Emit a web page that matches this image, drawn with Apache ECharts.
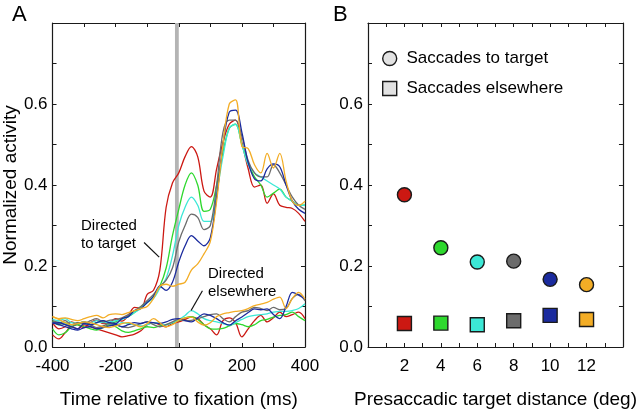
<!DOCTYPE html>
<html><head><meta charset="utf-8">
<script src="https://cdn.jsdelivr.net/npm/echarts@6/dist/echarts.min.js"></script>
<style>html,body{margin:0;padding:0;background:#fff}#c{width:640px;height:414px}</style>
</head><body><div id="c"></div>
<script>
// ---- Panel A data: time (ms) and normalized activity ----
const times = [-400,-380,-360,-340,-320,-300,-280,-260,-240,-220,-200,-180,-160,-140,-120,-100,-80,-60,-40,-20,0,20,40,60,80,100,120,140,160,180,200,220,240,260,280,300,320,340,360,380,400];

const redTarget    = [0.060,0.045,0.050,0.062,0.055,0.048,0.060,0.066,0.058,0.060,0.070,0.064,0.078,0.098,0.095,0.130,0.140,0.190,0.345,0.405,0.430,0.470,0.495,0.470,0.385,0.370,0.440,0.505,0.550,0.560,0.505,0.440,0.395,0.400,0.355,0.378,0.350,0.345,0.342,0.330,0.310];
const greenTarget  = [0.065,0.055,0.060,0.050,0.058,0.062,0.055,0.060,0.065,0.058,0.062,0.070,0.075,0.085,0.100,0.110,0.125,0.150,0.195,0.275,0.340,0.400,0.430,0.400,0.335,0.340,0.400,0.480,0.540,0.550,0.500,0.455,0.420,0.400,0.370,0.380,0.390,0.370,0.360,0.350,0.350];
const cyanTarget   = [0.068,0.065,0.070,0.060,0.058,0.062,0.060,0.065,0.060,0.062,0.065,0.068,0.075,0.085,0.095,0.110,0.120,0.145,0.170,0.225,0.300,0.345,0.370,0.350,0.310,0.310,0.380,0.470,0.540,0.550,0.500,0.450,0.430,0.420,0.410,0.400,0.390,0.370,0.360,0.350,0.350];
const grayTarget   = [0.062,0.058,0.065,0.055,0.060,0.058,0.065,0.070,0.062,0.066,0.068,0.072,0.080,0.090,0.100,0.115,0.130,0.150,0.165,0.195,0.260,0.300,0.328,0.320,0.290,0.300,0.400,0.530,0.560,0.560,0.520,0.460,0.430,0.420,0.420,0.450,0.430,0.400,0.370,0.350,0.340];
const blueTarget   = [0.058,0.060,0.055,0.050,0.045,0.058,0.055,0.060,0.065,0.060,0.058,0.070,0.075,0.090,0.095,0.110,0.125,0.150,0.140,0.160,0.210,0.250,0.275,0.262,0.250,0.270,0.370,0.500,0.580,0.585,0.530,0.455,0.415,0.410,0.440,0.452,0.445,0.400,0.360,0.340,0.330];
const orangeTarget = [0.075,0.070,0.072,0.068,0.065,0.070,0.075,0.078,0.072,0.080,0.082,0.080,0.085,0.090,0.095,0.100,0.120,0.150,0.155,0.150,0.155,0.160,0.190,0.205,0.230,0.260,0.360,0.500,0.600,0.610,0.495,0.490,0.450,0.430,0.478,0.442,0.478,0.410,0.360,0.350,0.360];

const redElse    = [0.030,0.020,0.035,0.050,0.045,0.055,0.050,0.045,0.040,0.035,0.030,0.025,0.028,0.032,0.040,0.055,0.060,0.055,0.050,0.058,0.062,0.068,0.074,0.070,0.055,0.045,0.030,0.065,0.072,0.060,0.025,0.045,0.065,0.078,0.062,0.072,0.086,0.075,0.080,0.086,0.070];
const greenElse  = [0.045,0.030,0.035,0.050,0.055,0.050,0.045,0.042,0.048,0.055,0.050,0.040,0.036,0.040,0.045,0.050,0.048,0.052,0.055,0.060,0.065,0.072,0.075,0.068,0.055,0.045,0.044,0.046,0.052,0.058,0.055,0.050,0.055,0.065,0.068,0.074,0.078,0.080,0.086,0.075,0.065];
const cyanElse   = [0.060,0.062,0.058,0.055,0.060,0.058,0.055,0.060,0.062,0.058,0.055,0.060,0.058,0.055,0.052,0.055,0.060,0.058,0.055,0.060,0.068,0.078,0.090,0.082,0.070,0.065,0.062,0.058,0.054,0.060,0.068,0.075,0.078,0.080,0.082,0.086,0.088,0.088,0.090,0.095,0.107];
const grayElse   = [0.065,0.060,0.055,0.050,0.058,0.062,0.055,0.048,0.052,0.058,0.055,0.050,0.048,0.052,0.058,0.062,0.055,0.050,0.055,0.062,0.068,0.065,0.066,0.070,0.075,0.080,0.082,0.070,0.062,0.075,0.086,0.090,0.098,0.095,0.090,0.098,0.092,0.095,0.120,0.130,0.114];
const blueElse   = [0.060,0.055,0.050,0.045,0.042,0.048,0.050,0.045,0.048,0.052,0.055,0.050,0.055,0.060,0.058,0.062,0.060,0.058,0.062,0.068,0.070,0.065,0.062,0.072,0.082,0.078,0.070,0.060,0.054,0.065,0.074,0.085,0.094,0.092,0.094,0.080,0.070,0.100,0.135,0.128,0.118];
const orangeElse = [0.075,0.068,0.060,0.055,0.058,0.062,0.060,0.055,0.050,0.048,0.052,0.058,0.060,0.055,0.050,0.058,0.070,0.060,0.050,0.055,0.066,0.072,0.074,0.062,0.054,0.060,0.075,0.082,0.085,0.088,0.090,0.095,0.102,0.106,0.110,0.118,0.123,0.095,0.120,0.135,0.118];

// ---- Panel B data ----
const distances = [2, 4, 6, 8, 10, 12];
const toTarget  = [0.376, 0.245, 0.210, 0.212, 0.167, 0.154];
const elsewhere = [0.058, 0.059, 0.055, 0.065, 0.078, 0.068];

const colors = ['#cc1812', '#2ed82e', '#3ce8d6', '#6c6c6c', '#1b2b9e', '#f3ad26'];
const targetCurves = [redTarget, greenTarget, cyanTarget, grayTarget, blueTarget, orangeTarget];
const elseCurves = [redElse, greenElse, cyanElse, grayElse, blueElse, orangeElse];

const FONT = '"Liberation Sans", Arial, Helvetica, sans-serif';
const AX = '#1a1a1a';

function axBase(extra) {
  return Object.assign({
    axisLine: { show: true, onZero: false, lineStyle: { color: AX, width: 1.2 } },
    axisTick: { show: true, inside: true, length: 4, lineStyle: { color: AX, width: 1 } },
    splitLine: { show: false },
    axisLabel: { show: true, color: '#000', fontSize: 17, fontFamily: FONT },
    nameTextStyle: { color: '#000', fontSize: 19, fontFamily: FONT }
  }, extra);
}
const yFmt = v => { const r = Math.round(v * 10); return (r % 2 === 0 && r < 8) ? (r / 10).toFixed(1) : ''; };

const series = [];
for (let k = 0; k < 6; k++) {
  [targetCurves[k], elseCurves[k]].forEach((arr) => {
    series.push({
      type: 'line', xAxisIndex: 0, yAxisIndex: 0, smooth: 0.35, showSymbol: false, silent: true,
      data: times.map((t, i) => [t, arr[i]]),
      lineStyle: { color: colors[k], width: 1.3 }, itemStyle: { color: colors[k] }, z: 3
    });
  });
}
// fixation bar + pointer lines
series.push({
  type: 'line', xAxisIndex: 0, yAxisIndex: 0, data: [], silent: true,
  markArea: { silent: true, itemStyle: { color: '#b4b4b4' }, data: [[{ xAxis: -12, yAxis: 0 }, { xAxis: 0, yAxis: 0.8 }]] },
  markLine: { silent: true, symbol: ['none', 'none'], label: { show: false },
    lineStyle: { color: '#111', width: 1.2, type: 'solid' },
    data: [[{ coord: [-110, 0.258] }, { coord: [-62, 0.222] }], [{ coord: [75, 0.139] }, { coord: [39, 0.090] }]] },
  z: 2
});
// Panel B scatters
series.push({
  name: 'Saccades to target', type: 'scatter', xAxisIndex: 2, yAxisIndex: 2, symbol: 'circle', symbolSize: 14,
  data: distances.map((d, i) => ({ value: [d, toTarget[i]], itemStyle: { color: colors[i] } })),
  itemStyle: { borderColor: '#1a1a1a', borderWidth: 1.4, opacity: 1 }, z: 5
});
series.push({
  name: 'Saccades elsewhere', type: 'scatter', xAxisIndex: 2, yAxisIndex: 2, symbol: 'rect', symbolSize: 14,
  data: distances.map((d, i) => ({ value: [d, elsewhere[i]], itemStyle: { color: colors[i] } })),
  itemStyle: { borderColor: '#1a1a1a', borderWidth: 1.4, opacity: 1 }, z: 5
});

const option = {
  animation: false,
  backgroundColor: '#fff',
  textStyle: { fontFamily: FONT },
  grid: [
    { left: 50, right: 335, top: 23, bottom: 62 },
    { left: 368, right: 17, top: 23, bottom: 62 }
  ],
  xAxis: [
    axBase({ type: 'value', gridIndex: 0, min: -400, max: 400, interval: 100, position: 'bottom',
      name: 'Time relative to fixation (ms)', nameLocation: 'middle', nameGap: 43,
      axisLabel: { color: '#000', fontSize: 17, fontFamily: FONT, margin: 11, formatter: v => (v % 200 === 0 ? String(v) : '') } }),
    axBase({ type: 'value', gridIndex: 0, min: -400, max: 400, interval: 100, position: 'top', axisLabel: { show: false } }),
    axBase({ type: 'value', gridIndex: 1, min: 0, max: 14, interval: 1, position: 'bottom',
      name: 'Presaccadic target distance (deg)', nameLocation: 'middle', nameGap: 43,
      axisLabel: { color: '#000', fontSize: 17, fontFamily: FONT, margin: 11, formatter: v => ((v % 2 === 0 && v >= 2 && v <= 12) ? String(v) : '') } }),
    axBase({ type: 'value', gridIndex: 1, min: 0, max: 14, interval: 1, position: 'top', axisLabel: { show: false } })
  ],
  yAxis: [
    axBase({ type: 'value', gridIndex: 0, min: 0, max: 0.8, interval: 0.1, position: 'left',
      name: 'Normalized activity', nameLocation: 'middle', nameGap: 30,
      axisLabel: { color: '#000', fontSize: 17, fontFamily: FONT, margin: 5, formatter: yFmt } }),
    axBase({ type: 'value', gridIndex: 0, min: 0, max: 0.8, interval: 0.1, position: 'right', axisLabel: { show: false } }),
    axBase({ type: 'value', gridIndex: 1, min: 0, max: 0.8, interval: 0.1, position: 'left',
      axisLabel: { color: '#000', fontSize: 17, fontFamily: FONT, margin: 5, formatter: yFmt } }),
    axBase({ type: 'value', gridIndex: 1, min: 0, max: 0.8, interval: 0.1, position: 'right', axisLabel: { show: false } })
  ],
  legend: {
    orient: 'vertical', left: 382, top: 50, padding: 0, itemWidth: 14, itemHeight: 14, itemGap: 13,
    selectedMode: false,
    formatter: n => ' ' + n,
    textStyle: { color: '#000', fontSize: 17, fontFamily: FONT },
    data: [
      { name: 'Saccades to target', icon: 'circle', itemStyle: { color: '#e2e2e2', borderColor: '#1a1a1a', borderWidth: 1.4 } },
      { name: 'Saccades elsewhere', icon: 'rect', itemStyle: { color: '#e2e2e2', borderColor: '#1a1a1a', borderWidth: 1.4 } }
    ]
  },
  graphic: [
    { type: 'text', left: 12, top: 4, style: { text: 'A', fontSize: 22, fontFamily: FONT, fill: '#000' } },
    { type: 'text', left: 333, top: 4, style: { text: 'B', fontSize: 22, fontFamily: FONT, fill: '#000' } },
    { type: 'text', left: 81, top: 217, style: { text: 'Directed\nto target', fontSize: 15, lineHeight: 18, fontFamily: FONT, fill: '#000' } },
    { type: 'text', left: 208, top: 265, style: { text: 'Directed\nelsewhere', fontSize: 15, lineHeight: 18, fontFamily: FONT, fill: '#000' } }
  ],
  series: series
};
const chart = echarts.init(document.getElementById('c'), null, { renderer: 'canvas' });
chart.setOption(option);
</script></body></html>
